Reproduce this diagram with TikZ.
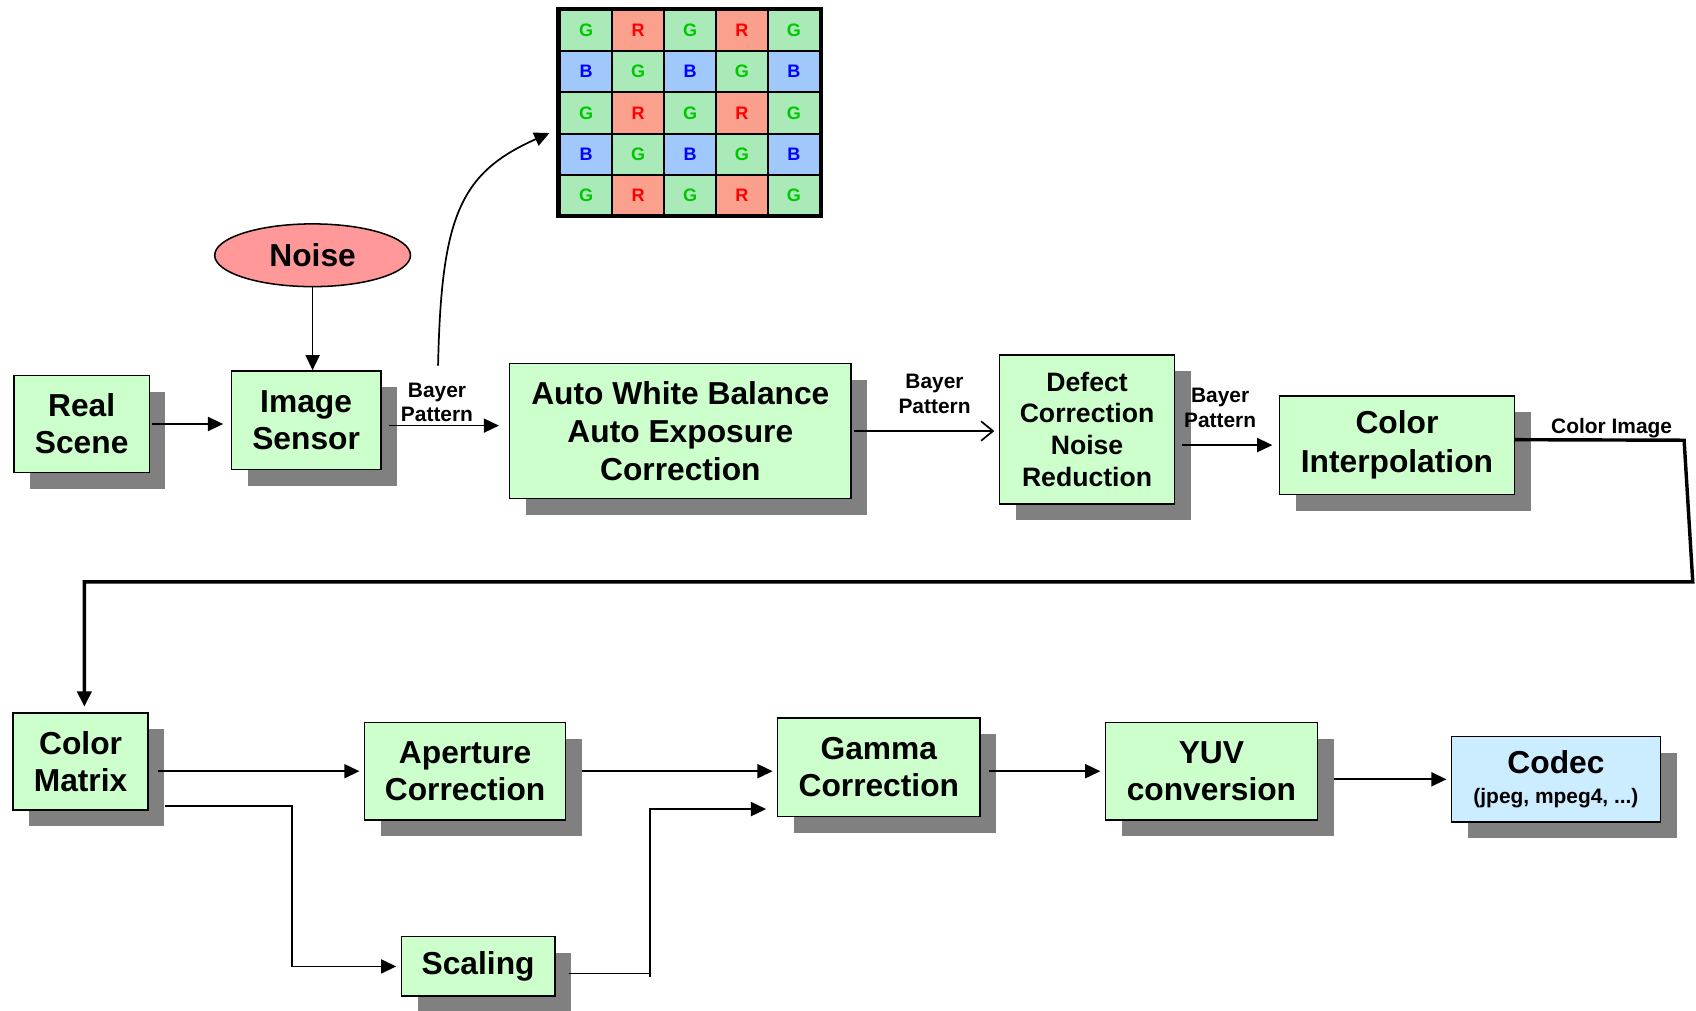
\documentclass[tikz,border=0pt]{standalone}
\usepackage{fontspec}
\setmainfont{Liberation Sans}
\usepackage{tikz}
\usetikzlibrary{shapes.geometric, arrows.meta, shadows}
\usepackage{xcolor}

\definecolor{boxgreen}{HTML}{CCFFCC}
\definecolor{codecblue}{HTML}{CCECFF}
\definecolor{noisered}{HTML}{FF9999}
\definecolor{shadowgray}{HTML}{808080}
\definecolor{gfill}{HTML}{AAEAB8}
\definecolor{rfill}{HTML}{FAA08C}
\definecolor{bfill}{HTML}{A0C8FA}
\definecolor{gtext}{HTML}{00C800}

\begin{document}
\begin{tikzpicture}[
        x=0.2mm, y=-0.2mm,
        >={Triangle[length=2.8mm, width=2.6mm]},
        block/.style={draw, rectangle, line width=0.8pt, fill=boxgreen, align=center, inner sep=0pt,
          font=\bfseries\fontsize{16.7}{19.5}\selectfont,
          drop shadow={shadow xshift=3mm, shadow yshift=-3mm, fill=shadowgray, opacity=1}},
        conn/.style={->, line width=0.9pt, shorten <=1.6mm, shorten >=0.8mm},
        lbl/.style={align=center, inner sep=0pt, font=\bfseries\fontsize{11}{13}\selectfont},
        cell/.style={draw, line width=0.9pt, minimum width=9.5mm, minimum height=7.6mm, inner sep=0pt,
          font=\bfseries\fontsize{9.5}{11}\selectfont},
        gcell/.style={cell, fill=gfill, text=gtext},
        rcell/.style={cell, fill=rfill, text=red},
        bcell/.style={cell, fill=bfill, text=blue}
      ]
      \useasboundingbox (0,0) rectangle (1568,934);

      % Bayer pattern
      \node[gcell] (b11) at (542,28) {G};
      \node[rcell] (b12) at (590,28) {R};
      \node[gcell] (b13) at (638,28) {G};
      \node[rcell] (b14) at (686,28) {R};
      \node[gcell] (b15) at (734,28) {G};

      \node[bcell] (b21) at (542,66) {B};
      \node[gcell] (b22) at (590,66) {G};
      \node[bcell] (b23) at (638,66) {B};
      \node[gcell] (b24) at (686,66) {G};
      \node[bcell] (b25) at (734,66) {B};

      \node[gcell] (b31) at (542,104.5) {G};
      \node[rcell] (b32) at (590,104.5) {R};
      \node[gcell] (b33) at (638,104.5) {G};
      \node[rcell] (b34) at (686,104.5) {R};
      \node[gcell] (b35) at (734,104.5) {G};

      \node[bcell] (b41) at (542,143) {B};
      \node[gcell] (b42) at (590,143) {G};
      \node[bcell] (b43) at (638,143) {B};
      \node[gcell] (b44) at (686,143) {G};
      \node[bcell] (b45) at (734,143) {B};

      \node[gcell] (b51) at (542,181) {G};
      \node[rcell] (b52) at (590,181) {R};
      \node[gcell] (b53) at (638,181) {G};
      \node[rcell] (b54) at (686,181) {R};
      \node[gcell] (b55) at (734,181) {G};

      \draw[line width=2.2pt] (516,8) rectangle (759,200);

      % First row
      \node[draw, ellipse, line width=0.8pt, fill=noisered, minimum width=36.2mm, minimum height=11.6mm, inner sep=0pt,
        font=\bfseries\fontsize{16.7}{19.5}\selectfont] (noise) at (289,236) {Noise};

      \node[block, minimum width=25mm, minimum height=18mm] (real) at (75.5,392) {Real\\Scene};
      \node[block, minimum width=27.6mm, minimum height=18.2mm] (sensor) at (283,388.5) {Image\\Sensor};
      \node[block, minimum width=63.2mm, minimum height=25mm, font=\bfseries\fontsize{16.7}{20}\selectfont] (awb) at (629,398.5) {Auto White Balance\\Auto Exposure\\Correction};
      \node[block, minimum width=32.4mm, minimum height=27.6mm, font=\bfseries\fontsize{14}{16.8}\selectfont] (defect) at (1005,397) {Defect\\Correction\\Noise\\Reduction};
      \node[block, minimum width=43.4mm, minimum height=18.2mm, font=\bfseries\fontsize{16.7}{20.5}\selectfont] (interp) at (1291.5,411.5) {Color\\Interpolation};

      \node[lbl] (bp1) at (404,372) {Bayer\\Pattern};
      \node[lbl] (bp2) at (864,364) {Bayer\\Pattern};
      \node[lbl] (bp3) at (1128,377) {Bayer\\Pattern};
      \node[lbl] (cimg) at (1490,396) {Color Image};

      % Second row
      \node[block, minimum width=25mm, minimum height=18mm] (cmatrix) at (74.5,704) {Color\\Matrix};
      \node[block, minimum width=37.2mm, minimum height=18mm] (aperture) at (430,713) {Aperture\\Correction};
      \node[block, minimum width=28.4mm, minimum height=11mm] (scaling) at (442,893.5) {Scaling};
      \node[block, minimum width=37.4mm, minimum height=18.2mm] (gamma) at (812.5,709.5) {Gamma\\Correction};
      \node[block, minimum width=39.2mm, minimum height=18mm] (yuv) at (1120,713) {YUV\\conversion};
      \node[block, minimum width=38.6mm, minimum height=15.8mm, fill=codecblue] (codec) at (1438.5,720.5)
        {Codec\\[-3.5pt]{\fontsize{11}{13}\selectfont(jpeg, mpeg4, ...)}};

      \coordinate (tap) at (405,338);
      \coordinate (bayertip) at (508,123);
      \coordinate (ci1) at (1557,407);
      \coordinate (ci2) at (1565,538);
      \coordinate (ci3) at (78,538);
      \coordinate (cs1) at (270,745);
      \coordinate (sg1) at (601,748);

      % Connections
      \draw[->, line width=0.9pt] (noise.south) -- (noise.south |- sensor.north);
      \draw[conn, shorten <=0.4mm, shorten >=1.4mm] (real.east) -- (real.east -| sensor.west);
      \draw[conn, shorten <=1.4mm, shorten >=1.8mm] ([yshift=-1mm]sensor.east) -- ([yshift=-1mm]sensor.east -| awb.west);
      \draw[line width=0.9pt, -{Straight Barb[length=2.2mm, width=3.6mm]}, shorten <=0.4mm, shorten >=0.8mm] (awb.east) -- (awb.east -| defect.west);
      \draw[conn, shorten <=1.2mm, shorten >=1.2mm] (defect.east |- interp.west) -- (interp.west);
      \draw[->, line width=0.9pt] (tap) .. controls (408,200) and (425,160) .. (bayertip);

      \draw[->, line width=1.8pt, line join=miter] ([yshift=1mm]interp.east) -- (ci1) -- (ci2) -- (ci3) -- ([yshift=1mm]ci3 |- cmatrix.north);

      \draw[conn] (cmatrix.east |- aperture.west) -- (aperture.west);
      \draw[conn, shorten <=3mm] (cs1 -| cmatrix.east) -- (cs1) |- (scaling.west);
      \draw[conn, shorten <=2.8mm] (aperture.east) -- (aperture.east -| gamma.west);
      \draw[conn, shorten <=2.4mm, shorten >=2mm] ([yshift=-1.3mm]scaling.east) -| (sg1) -- (sg1 -| gamma.west);
      \draw[line width=0.9pt] ([yshift=-1.3mm]scaling.east -| sg1) -- ++(0,3);
      \draw[conn] (gamma.east |- yuv.west) -- (yuv.west);
      \draw[conn, shorten <=3mm] (yuv.east |- codec.west) -- (codec.west);

    \end{tikzpicture}
\end{document}
